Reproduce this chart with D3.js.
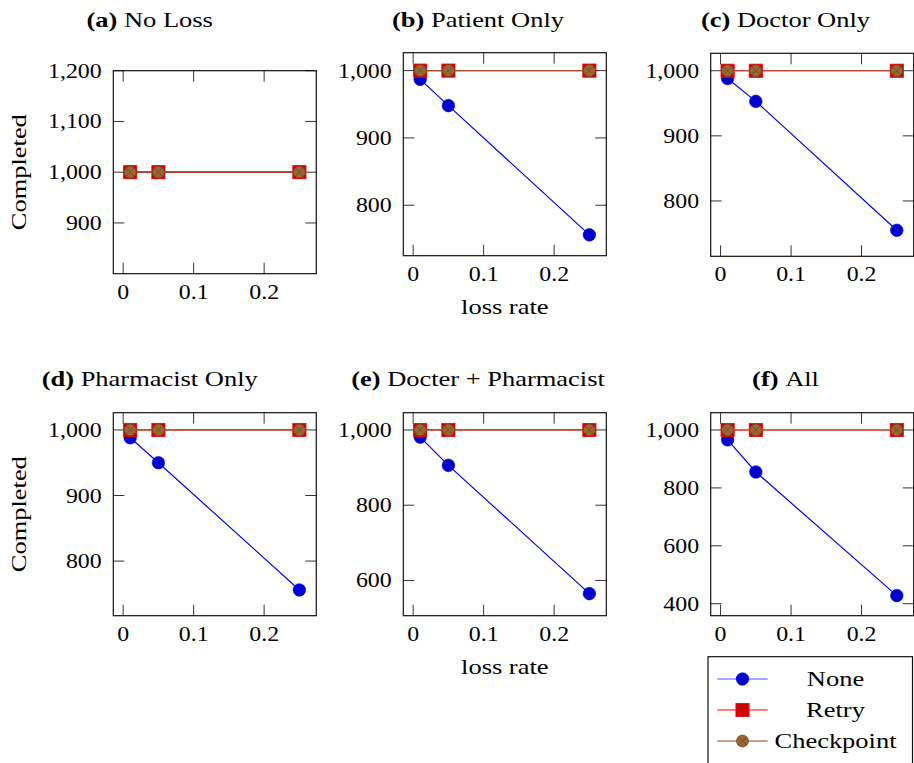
<!DOCTYPE html>
<html>
<head>
<meta charset="utf-8">
<script src="https://cdn.jsdelivr.net/npm/d3@7"></script>
<style>
  html, body { margin: 0; padding: 0; background: #fff; }
  svg { display: block; }
</style>
</head>
<body>
<svg id="chart" width="914" height="763"></svg>
<script>
// ---------------- data ----------------
const lossRates = [0.01, 0.05, 0.25];
const seriesNames = ["None", "Retry", "Checkpoint"];
const panelLetters = ["(a)", "(b)", "(c)", "(d)", "(e)", "(f)"];
const panelNames = ["No Loss", "Patient Only", "Doctor Only", "Pharmacist Only", "Docter + Pharmacist", "All"];

const noneValues = [
  [1000, 1000, 1000],
  [987, 948, 756],
  [988, 953, 755],
  [988, 950, 756],
  [981, 906, 565],
  [966, 855, 428]
];
const retryValues = [
  [1000, 1000, 1000], [1000, 1000, 1000], [1000, 1000, 1000],
  [1000, 1000, 1000], [1000, 1000, 1000], [1000, 1000, 1000]
];
const checkpointValues = [
  [1000, 1000, 1000], [1000, 1000, 1000], [1000, 1000, 1000],
  [1000, 1000, 1000], [1000, 1000, 1000], [1000, 1000, 1000]
];

const xTickValues = [0, 0.1, 0.2];
const yTickValues = [
  [900, 1000, 1100, 1200],
  [800, 900, 1000],
  [800, 900, 1000],
  [800, 900, 1000],
  [600, 800, 1000],
  [400, 600, 800, 1000]
];
const yDomains = [
  [800, 1200],
  [725, 1026.6],
  [715, 1026.8],
  [716.7, 1026.3],
  [506.3, 1045.9],
  [358.6, 1059.7]
];
const xDomain = [-0.014, 0.274];
const xLabel = "loss rate";
const yLabel = "Completed";

// ---------------- layout / style ----------------
const FONT = "Liberation Serif";
const plotW = 203, plotH = 203;
const layout = [
  { left: 113.3, top: 70.7, titleX: 149.7, titleY: 26.7, ylab: true,  xlab: false },
  { left: 403.3, top: 52.7, titleX: 478,   titleY: 26.7, ylab: false, xlab: true },
  { left: 710.7, top: 53.3, titleX: 785.5, titleY: 26.7, ylab: false, xlab: false },
  { left: 113.3, top: 412.7, titleX: 149.7, titleY: 386, ylab: true,  xlab: false },
  { left: 403.3, top: 412.7, titleX: 478,   titleY: 386, ylab: false, xlab: true },
  { left: 710.7, top: 412.7, titleX: 785.5, titleY: 386, ylab: false, xlab: false }
];
const FS = 22;
const colors = {
  None: { line: "#0000ff", fill: "#0000cc", stroke: "#0000ee" },
  Retry: { line: "#ff0000", fill: "#cc0000", stroke: "#ff0000" },
  Checkpoint: { line: "#a0522d", fill: "#9a6633", stroke: "#6e4520" }
};
const MR = 6.3;

const svg = d3.select("#chart");

function natWidth(str) {
  const t = svg.append("text").attr("font-family", FONT).attr("font-size", FS).text(str);
  const w = t.node().getComputedTextLength();
  t.remove();
  return w;
}
const WORD_STRETCH = 122 / natWidth("Checkpoint");
const NUM_STRETCH = 53.7 / natWidth("1,200");

function drawMarker(g, name, x, y) {
  const c = colors[name];
  if (name === "None") {
    g.append("circle").attr("cx", x).attr("cy", y).attr("r", MR)
      .attr("fill", c.fill).attr("stroke", c.stroke).attr("stroke-width", 0.6);
  } else if (name === "Retry") {
    g.append("rect").attr("x", x - 6.6).attr("y", y - 6.6).attr("width", 13.2).attr("height", 13.2)
      .attr("fill", c.fill).attr("stroke", c.stroke).attr("stroke-width", 0.8);
  } else {
    g.append("circle").attr("cx", x).attr("cy", y).attr("r", 6)
      .attr("fill", c.fill).attr("stroke", c.stroke).attr("stroke-width", 0.7);
    const d = 6 * Math.SQRT1_2;
    g.append("path")
      .attr("d", `M${x - d},${y - d}L${x + d},${y + d}M${x - d},${y + d}L${x + d},${y - d}`)
      .attr("stroke", c.stroke).attr("stroke-width", 0.7).attr("fill", "none");
  }
}

function stretchedText(parent, x, y, anchor, stretch, rotate) {
  return parent.append("text")
    .attr("font-family", FONT)
    .attr("fill", "#000")
    .attr("text-anchor", anchor)
    .attr("font-size", FS)
    .attr("transform", `translate(${x},${y})${rotate ? " rotate(" + rotate + ")" : ""} scale(${stretch},1)`);
}

const fmtY = d3.format(",");
const fmtX = d => d3.format("")(d);

layout.forEach((L, i) => {
  const g = svg.append("g");
  const x = d3.scaleLinear().domain(xDomain).range([L.left, L.left + plotW]);
  const y = d3.scaleLinear().domain(yDomains[i]).range([L.top + plotH, L.top]);
  const tickLen = 11;

  xTickValues.forEach(v => {
    g.append("line").attr("x1", x(v)).attr("x2", x(v))
      .attr("y1", L.top + plotH).attr("y2", L.top + plotH - tickLen)
      .attr("stroke", "#333").attr("stroke-width", 1);
    g.append("line").attr("x1", x(v)).attr("x2", x(v))
      .attr("y1", L.top).attr("y2", L.top + tickLen)
      .attr("stroke", "#333").attr("stroke-width", 1);
    stretchedText(g, x(v), L.top + plotH + 25, "middle", NUM_STRETCH).text(fmtX(v));
  });
  yTickValues[i].forEach(v => {
    g.append("line").attr("x1", L.left).attr("x2", L.left + tickLen)
      .attr("y1", y(v)).attr("y2", y(v))
      .attr("stroke", "#333").attr("stroke-width", 1);
    g.append("line").attr("x1", L.left + plotW).attr("x2", L.left + plotW - tickLen)
      .attr("y1", y(v)).attr("y2", y(v))
      .attr("stroke", "#333").attr("stroke-width", 1);
    stretchedText(g, L.left - 11.6, y(v) + 7, "end", NUM_STRETCH).text(fmtY(v));
  });

  const seriesData = [noneValues[i], retryValues[i], checkpointValues[i]];
  seriesNames.forEach((name, si) => {
    const pts = lossRates.map((r, k) => [x(r), y(seriesData[si][k])]);
    g.append("path").attr("d", d3.line()(pts))
      .attr("fill", "none").attr("stroke", colors[name].line).attr("stroke-width", 1.2);
    pts.forEach(p => drawMarker(g, name, p[0], p[1]));
  });

  g.append("rect").attr("x", L.left).attr("y", L.top).attr("width", plotW).attr("height", plotH)
    .attr("fill", "none").attr("stroke", "#111").attr("stroke-width", 1.2);

  const t = stretchedText(svg, L.titleX, L.titleY, "middle", WORD_STRETCH);
  t.append("tspan").attr("font-weight", "bold").text(panelLetters[i]);
  t.append("tspan").text("\u00a0" + panelNames[i]);

  if (L.xlab) {
    stretchedText(svg, L.left + plotW / 2, L.top + plotH + 58.5, "middle", WORD_STRETCH).text(xLabel);
  }
  if (L.ylab) {
    stretchedText(svg, 26, L.top + plotH / 2, "middle", WORD_STRETCH, -90).text(yLabel);
  }
});

// ---------------- legend ----------------
const lg = svg.append("g");
lg.append("rect").attr("x", 708).attr("y", 656.7).attr("width", 204.5).attr("height", 130)
  .attr("fill", "#fff").attr("stroke", "#111").attr("stroke-width", 1.2);
seriesNames.forEach((name, k) => {
  const cy = 679 + k * 31;
  lg.append("line").attr("x1", 717.3).attr("x2", 767.7).attr("y1", cy).attr("y2", cy)
    .attr("stroke", name === "None" ? "#5555ff" : (name === "Checkpoint" ? "#8b4a1e" : colors[name].line))
    .attr("stroke-width", 1.2);
  drawMarker(lg, name, 742.5, cy);
  stretchedText(lg, 835.5, cy + 7, "middle", WORD_STRETCH).text(name);
});
</script>
</body>
</html>
